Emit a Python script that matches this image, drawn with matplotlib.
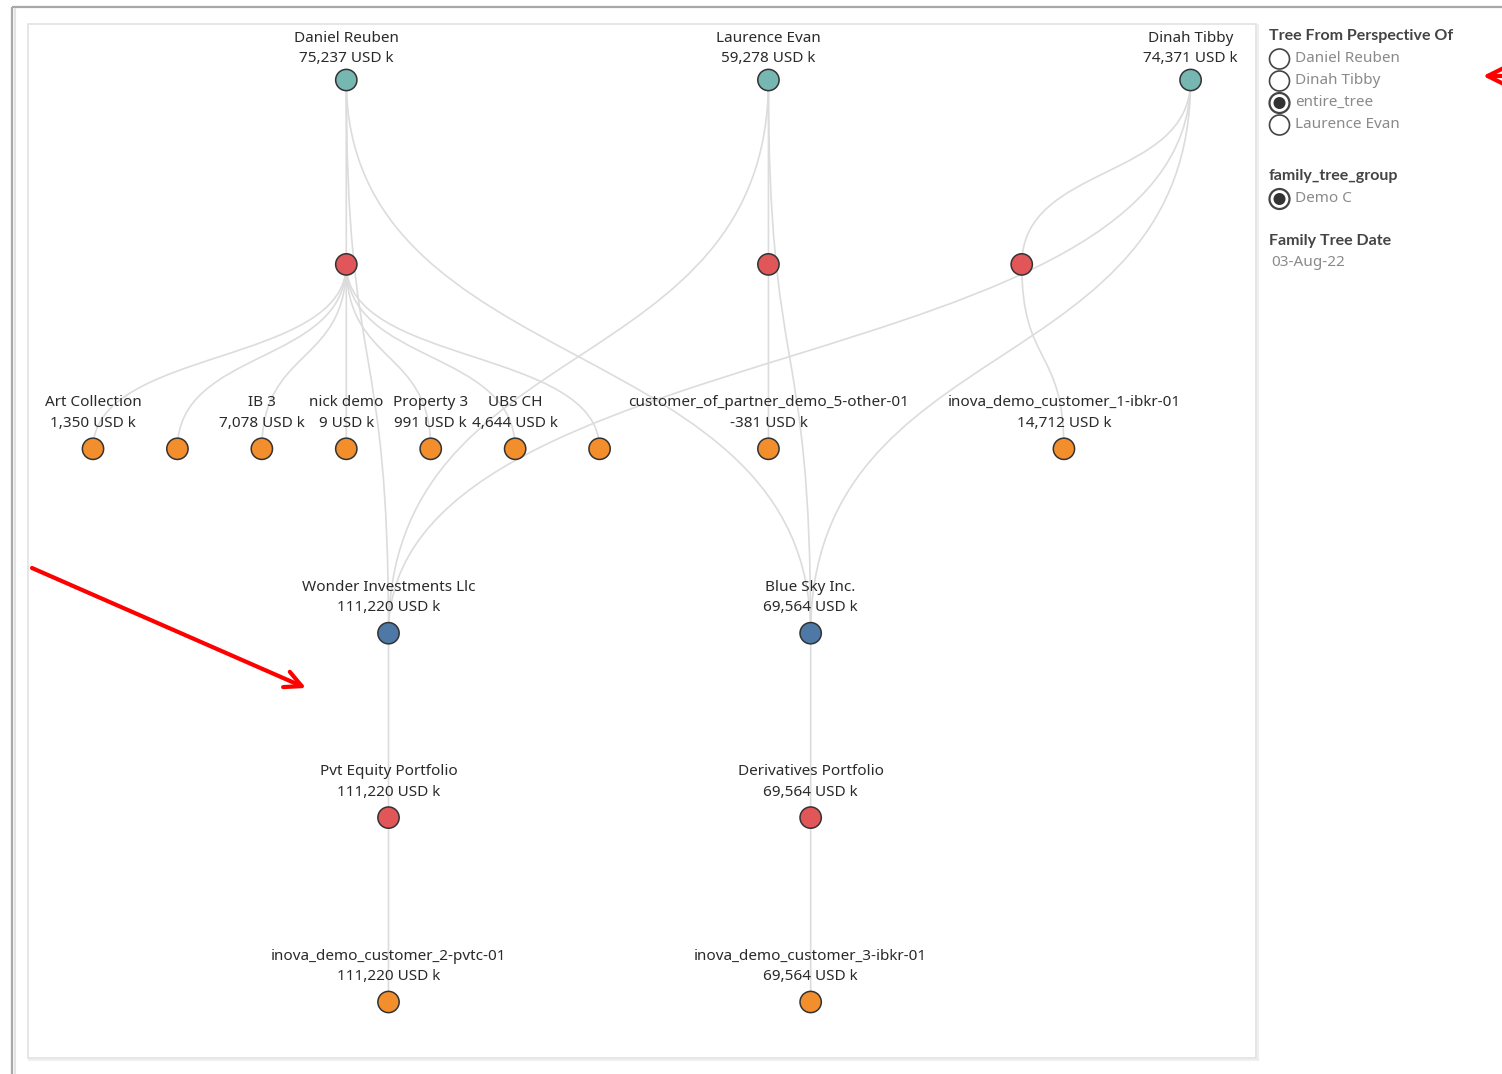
import matplotlib
matplotlib.use('Agg')
import matplotlib.pyplot as plt
from matplotlib.path import Path
import matplotlib.patches as patches

plt.rcParams['font.family'] = ['Noto Sans', 'DejaVu Sans']

# node data
names = ['Daniel Reuben', 'Laurence Evan', 'Dinah Tibby',
         '', '', '',
         'Art Collection', '', 'IB 3', 'nick demo', 'Property 3', 'UBS CH', '',
         'customer_of_partner_demo_5-other-01', 'inova_demo_customer_1-ibkr-01',
         'Wonder Investments Llc', 'Blue Sky Inc.',
         'Pvt Equity Portfolio', 'Derivatives Portfolio',
         'inova_demo_customer_2-pvtc-01', 'inova_demo_customer_3-ibkr-01']
values = [75237, 59278, 74371,
          None, None, None,
          1350, None, 7078, 9, 991, 4644, None,
          -381, 14712,
          111220, 69564,
          111220, 69564,
          111220, 69564]
levels = [0, 0, 0,
          1, 1, 1,
          2, 2, 2, 2, 2, 2, 2, 2, 2,
          3, 3,
          4, 4,
          5, 5]
slots = [3, 8, 13,
         3, 8, 11,
         0, 1, 2, 3, 4, 5, 6, 8, 11.5,
         3.5, 8.5,
         3.5, 8.5,
         3.5, 8.5]
kinds = ['person'] * 3 + ['account'] * 3 + ['asset'] * 9 + ['company'] * 2 + ['account'] * 2 + ['asset'] * 2

edges = [(0, 3), (0, 15), (0, 16),
         (1, 4), (1, 15), (1, 16),
         (2, 5), (2, 15), (2, 16),
         (3, 6), (3, 7), (3, 8), (3, 9), (3, 10), (3, 11), (3, 12),
         (4, 13), (5, 14),
         (15, 17), (16, 18), (17, 19), (18, 20)]

kind_colors = {'person': '#76b7b2', 'account': '#e15759', 'asset': '#f28e2b', 'company': '#4e79a7'}

radio_options = ['Daniel Reuben', 'Dinah Tibby', 'entire_tree', 'Laurence Evan']
radio_selected = 'entire_tree'
group_options = ['Demo C']
tree_date = '03-Aug-22'

# layout: slot/level -> pixel
X0, DX = 93, 84.43
Y0, DY = 80, 184.4
FS = 11


def px(slot):
    return X0 + slot * DX


def py(level):
    return Y0 + level * DY


fig = plt.figure(figsize=(15.02, 10.74), dpi=100)
ax = fig.add_axes([0, 0, 1, 1])
ax.set_xlim(0, 1502)
ax.set_ylim(1074, 0)
ax.axis('off')

# frames
ax.plot([12, 1502], [7, 7], color='#a8a8a8', lw=1.6, solid_capstyle='butt')
ax.plot([12, 12], [7, 1074], color='#a8a8a8', lw=1.6, solid_capstyle='butt')
ax.plot([14.5, 14.5], [9, 1074], color='#e4e4e4', lw=1.5)
ax.add_patch(patches.Rectangle((28, 24), 1228, 1034, fill=False, ec='#e2e2e2', lw=1.2))
ax.plot([29, 1257.5], [1059.5, 1059.5], color='#ececec', lw=1.2)
ax.plot([1257.5, 1257.5], [25, 1059.5], color='#ececec', lw=1.2)

# edges as sigmoid bezier curves
for a, b in edges:
    x1, y1 = px(slots[a]), py(levels[a])
    x2, y2 = px(slots[b]), py(levels[b])
    h = (y2 - y1) * 0.55
    path = Path([(x1, y1), (x1, y1 + h), (x2, y2 - h), (x2, y2)],
                [Path.MOVETO, Path.CURVE4, Path.CURVE4, Path.CURVE4])
    ax.add_patch(patches.PathPatch(path, fill=False, ec='#dcdcdc', lw=1.2, zorder=1))

# nodes
xs = [px(s) for s in slots]
ys = [py(l) for l in levels]
ax.scatter(xs, ys, s=235, c=[kind_colors[k] for k in kinds], edgecolors='#333333',
           linewidths=1.1, zorder=3)

# labels
for name, val, x, y, lev in zip(names, values, xs, ys, levels):
    off = 42 if lev == 0 else 46
    if name:
        ax.text(x, y - off, name, ha='center', va='center', fontsize=FS, color='#2a2a2a', zorder=4)
    if val is not None:
        ax.text(x, y - off + 20.5, '{:,} USD k'.format(val), ha='center', va='center',
                fontsize=FS, color='#2a2a2a', zorder=4)

# side panel
lx = 1269
title_kw = dict(ha='left', va='center', fontsize=11.5, fontweight='bold', color='#444444',
                family=['Lato', 'DejaVu Sans'])
ax.text(lx, 36, 'Tree From Perspective Of', **title_kw)
for i, opt in enumerate(radio_options):
    yy = 58 + i * 22
    sel = opt == radio_selected
    ax.add_patch(patches.Circle((1279.5, yy + 1), 10, fill=True, fc='white', ec='#444444',
                                lw=1.6 if sel else 1.2))
    if sel:
        ax.add_patch(patches.Circle((1279.5, yy + 1), 6, fc='#333333', ec='none'))
    ax.text(1295, yy, opt, ha='left', va='center', fontsize=FS, color='#8a8a8a')

ax.text(lx, 176, 'family_tree_group', **title_kw)
for i, opt in enumerate(group_options):
    yy = 198 + i * 22
    ax.add_patch(patches.Circle((1279.5, yy + 1), 10, fc='white', ec='#444444', lw=1.6))
    ax.add_patch(patches.Circle((1279.5, yy + 1), 6, fc='#333333', ec='none'))
    ax.text(1295, yy, opt, ha='left', va='center', fontsize=FS, color='#8a8a8a')

ax.text(lx, 241, 'Family Tree Date', **title_kw)
ax.text(lx + 2, 263, tree_date, ha='left', va='center', fontsize=FS, color='#8a8a8a')

# red annotation arrows
arrow_kw = dict(arrowstyle='->, head_length=1.2, head_width=0.6', color='#ff0000', lw=3,
                shrinkA=0, shrinkB=0)
ax.annotate('', xy=(306, 688), xytext=(32, 568), arrowprops=arrow_kw)
ax.annotate('', xy=(1483, 76), xytext=(1540, 76), arrowprops=arrow_kw)

fig.savefig('out.png', dpi=100)
